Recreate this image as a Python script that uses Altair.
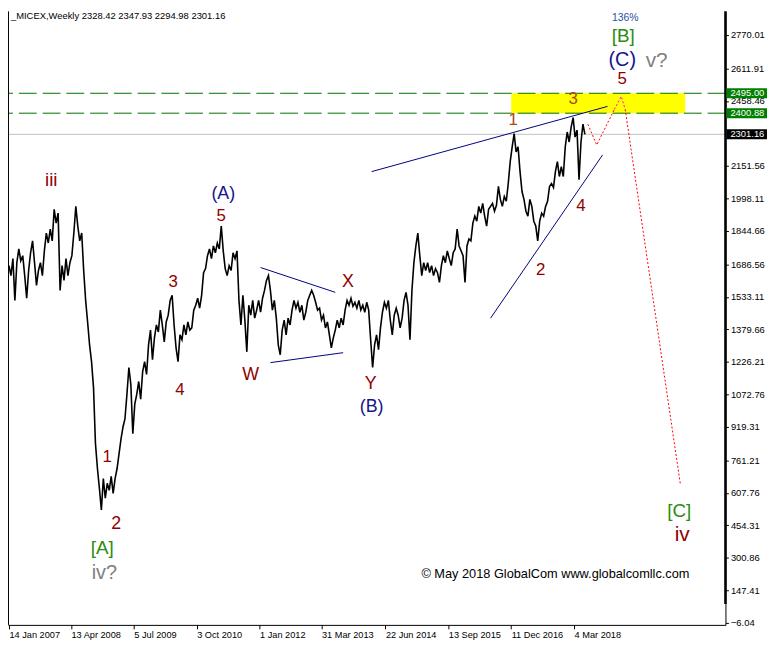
import altair as alt
import pandas as pd

# ---- weekly MICEX closes (sampled every 2 weeks, week 0 = 14 Jan 2007) ----
close = [
    1681, 1634, 1714, 1517, 1695, 1760, 1704, 1728, 1634, 1527,
    1658, 1742, 1798, 1695, 1588, 1658, 1695, 1634, 1751, 1835,
    1788, 1854, 1798, 1947, 1882, 1929, 1564, 1681, 1611, 1714,
    1634, 1695, 1728, 1835, 1961, 1868, 1798, 1835, 1658, 1517,
    1415, 1307, 1228, 1106, 840, 723, 630, 527, 676, 583,
    653, 620, 686, 606, 676, 723, 793, 863, 919, 957,
    1073, 1200, 1120, 887, 1027, 1073, 1134, 1050, 1181, 1228,
    1167, 1307, 1377, 1237, 1340, 1401, 1368, 1471, 1401, 1321,
    1415, 1447, 1517, 1541, 1401, 1293, 1228, 1354, 1331, 1401,
    1354, 1415, 1377, 1387, 1471, 1494, 1527, 1480, 1541, 1648,
    1667, 1728, 1760, 1714, 1774, 1742, 1788, 1760, 1868, 1751,
    1667, 1634, 1681, 1658, 1742, 1714, 1751, 1517, 1401, 1541,
    1424, 1274, 1494, 1447, 1517, 1433, 1471, 1517, 1461, 1527,
    1564, 1611, 1634, 1564, 1471, 1517, 1433, 1307, 1260, 1377,
    1424, 1354, 1433, 1401, 1471, 1517, 1480, 1508, 1461, 1494,
    1424, 1461, 1517, 1541, 1564, 1541, 1508, 1471, 1480, 1424,
    1447, 1387, 1415, 1354, 1293, 1340, 1377, 1424, 1387, 1433,
    1401, 1471, 1517, 1494, 1527, 1489, 1508, 1480, 1517, 1471,
    1494, 1461, 1508, 1471, 1331, 1200, 1307, 1354, 1284, 1387,
    1461, 1508, 1480, 1517, 1424, 1354, 1447, 1480, 1447, 1387,
    1433, 1517, 1555, 1494, 1331, 1564, 1695, 1774, 1835, 1728,
    1634, 1695, 1658, 1695, 1648, 1681, 1634, 1667, 1648, 1602,
    1681, 1728, 1695, 1751, 1714, 1681, 1742, 1760, 1854, 1774,
    1751, 1728, 1602, 1774, 1807, 1798, 1882, 1915, 1891, 1961,
    1929, 1975, 1915, 1868, 1947, 1961, 1975, 1938, 1966, 2055,
    1994, 1961, 2008, 1985, 2069, 2172, 2242, 2305, 2218, 2242,
    2125, 2031, 1994, 1938, 1915, 1994, 1961, 1891, 1868, 1798,
    1891, 1929, 1915, 1961, 1985, 2055, 2069, 2050, 2125, 2172,
    2102, 2148, 2102, 2242, 2312, 2265, 2335, 2380, 2288, 2321,
    2087, 2265, 2349, 2301,
]
weeks = list(range(0, 2 * len(close), 2))

# ---- axis ticks ----
date_tick_weeks = [0, 63, 127, 191, 255, 318, 383, 447, 511, 575]
date_tick_labels = ["14 Jan 2007", "13 Apr 2008", "5 Jul 2009", "3 Oct 2010",
                    "1 Jan 2012", "31 Mar 2013", "22 Jun 2014", "13 Sep 2015",
                    "11 Dec 2016", "4 Mar 2018"]
price_ticks = [2770.01, 2611.91, 2458.46, 2151.56, 1998.11, 1844.66, 1686.56,
               1533.11, 1379.66, 1226.21, 1072.76, 919.31, 761.21, 607.76,
               454.31, 300.86, 147.41, -6.04]

# ---- levels ----
level_prices = [2495.00, 2400.88]
last_price = 2301.16
zone_weeks = [511, 688]
zone_prices = [2400.88, 2495.00]

# ---- trend lines (week, price) ----
trend_id = ["up", "up", "lo", "lo", "tu", "tu", "tl", "tl"]
trend_w = [369, 609, 490, 604, 256, 332, 266, 340]
trend_p = [2125, 2433, 1433, 2204, 1672, 1555, 1223, 1270]

# ---- projection path ----
proj_id = ["a", "a", "a", "b", "b", "b", "c", "c"]
proj_w = [589, 598, 616, 616, 623, 627, 627, 683]
proj_p = [2349, 2251, 2419, 2419, 2480, 2419, 2419, 653]
proj_col = ["#ff0000", "#ff0000", "#ff0000", "#ff00ff", "#ff00ff", "#ff00ff",
            "#ff0000", "#ff0000"]

# ---- wave labels ----
DR = "#900000"
NV = "#14148c"
GR = "#2a8c10"
GY = "#808080"
OR = "#a84a1a"
lab_text = ["iii", "1", "2", "[A]", "iv?", "3", "4", "(A)", "5", "W", "X", "Y",
            "(B)", "1", "2", "3", "4", "136%", "[B]", "(C)", "v?", "5", "[C]", "iv"]
lab_w = [43, 100, 109, 95, 97, 167, 174, 218, 216, 246, 345, 368,
         369, 513, 541, 574, 582, 627, 625, 624, 659, 624, 682, 685]
lab_p = [2087, 779, 461, 349, 228, 1602, 1092, 2017, 1915, 1162, 1602, 1120,
         1013, 2368, 1658, 2466, 1961, 2849, 2765, 2653, 2648, 2564, 522, 410]
lab_col = [DR, DR, DR, GR, GY, DR, DR, NV, DR, DR, DR, DR,
           NV, OR, DR, OR, DR, "#2850a0", GR, NV, GY, DR, GR, DR]
lab_size = [19, 17, 18, 19, 20, 17, 17, 18, 17, 18, 18, 18,
            18, 17, 17, 17, 17, 10.5, 19, 20, 21, 17, 19, 21]

W, H = 725, 620
XDOM = [-1, 729]
YDOM = [-15.39, 2881.9]
FONT = "Liberation Sans"

xs = alt.Scale(domain=XDOM, nice=False, zero=False)
ys = alt.Scale(domain=YDOM, nice=False, zero=False)

price_df = pd.DataFrame({"w": weeks, "p": close})

x_axis = alt.Axis(values=date_tick_weeks, title=None, grid=False,
                  labelExpr="[" + ",".join("'%s'" % s for s in date_tick_labels) + "][indexof(["
                            + ",".join(str(v) for v in date_tick_weeks) + "], datum.value)]",
                  labelAlign="left", labelBaseline="top", labelPadding=2,
                  labelFont=FONT, labelFontSize=9.3, labelColor="black",
                  tickSize=4, tickColor="black", domainColor="black",
                  labelOverlap=False, labelFlush=False)
y_axis = alt.Axis(values=price_ticks, orient="right", format=".2f", title=None,
                  grid=False, labelFont=FONT, labelFontSize=9.5, labelColor="black",
                  tickSize=3, tickColor="black", domainColor="black",
                  labelPadding=2, labelOverlap=False, labelFlush=False)

base_line = alt.Chart(price_df).mark_line(color="black", strokeWidth=1.6).encode(
    x=alt.X("w:Q", scale=xs, axis=x_axis),
    y=alt.Y("p:Q", scale=ys, axis=y_axis),
)

zone = alt.Chart(pd.DataFrame({"w1": [zone_weeks[0]], "w2": [zone_weeks[1]],
                               "p1": [zone_prices[0]], "p2": [zone_prices[1]]})
                 ).mark_rect(color="#ffff00").encode(
    x=alt.X("w1:Q", scale=xs, axis=x_axis), x2="w2:Q",
    y=alt.Y("p1:Q", scale=ys, axis=y_axis), y2="p2:Q")

levels = alt.Chart(pd.DataFrame({"p": level_prices})).mark_rule(
    color="#007000", strokeDash=[18, 6], strokeWidth=1).encode(
    y=alt.Y("p:Q", scale=ys, axis=y_axis))

last_line = alt.Chart(pd.DataFrame({"p": [last_price]})).mark_rule(
    color="#c0c0c0", strokeWidth=1).encode(y=alt.Y("p:Q", scale=ys, axis=y_axis))

trend = alt.Chart(pd.DataFrame({"id": trend_id, "w": trend_w, "p": trend_p})
                  ).mark_line(color="#000080", strokeWidth=1).encode(
    x=alt.X("w:Q", scale=xs, axis=x_axis), y=alt.Y("p:Q", scale=ys, axis=y_axis),
    detail="id:N")

proj = alt.Chart(pd.DataFrame({"id": proj_id, "w": proj_w, "p": proj_p, "c": proj_col})
                 ).mark_line(strokeWidth=1, strokeDash=[2, 2]).encode(
    x=alt.X("w:Q", scale=xs, axis=x_axis), y=alt.Y("p:Q", scale=ys, axis=y_axis),
    detail="id:N", color=alt.Color("c:N", scale=None))

labels = alt.Chart(pd.DataFrame({"t": lab_text, "w": lab_w, "p": lab_p,
                                 "c": lab_col, "s": lab_size})
                   ).mark_text(font=FONT, align="center", baseline="middle").encode(
    x=alt.X("w:Q", scale=xs, axis=x_axis), y=alt.Y("p:Q", scale=ys, axis=y_axis),
    text="t:N", color=alt.Color("c:N", scale=None), size=alt.Size("s:Q", scale=None))

copyright_txt = alt.Chart(pd.DataFrame({"t": ["\u00a9 May 2018 GlobalCom www.globalcomllc.com"],
                                        "w": [556], "p": [223]})
                          ).mark_text(font=FONT, fontSize=12.9, color="black",
                                      align="center", baseline="middle").encode(
    x=alt.X("w:Q", scale=xs, axis=x_axis), y=alt.Y("p:Q", scale=ys, axis=y_axis),
    text="t:N")

header = alt.Chart(pd.DataFrame({"t": ["_MICEX,Weekly  2328.42 2347.93 2294.98 2301.16"]})
                   ).mark_text(font=FONT, fontSize=9.5, color="black", align="left",
                               baseline="top").encode(
    x=alt.value(3), y=alt.value(0), text="t:N")

# price-axis highlight boxes
box_prices = [2495.00, 2400.88, 2301.16]
box_colors = ["#008000", "#008000", "#000000"]
boxes = alt.Chart(pd.DataFrame({"p": box_prices, "c": box_colors})).mark_tick(
    orient="vertical", thickness=41, size=10, opacity=1).encode(
    x=alt.value(746.5), y=alt.Y("p:Q", scale=ys, axis=y_axis),
    color=alt.Color("c:N", scale=None))
box_text = alt.Chart(pd.DataFrame({"p": box_prices})).mark_text(
    font=FONT, fontSize=9.5, color="white", align="left", baseline="middle").encode(
    x=alt.value(730), y=alt.Y("p:Q", scale=ys, axis=y_axis),
    text=alt.Text("p:Q", format=".2f"))

left_border = alt.Chart(pd.DataFrame({"a": [0]})).mark_rule(color="black", strokeWidth=1).encode(
    x=alt.value(0.5), y=alt.value(0), y2=alt.value(H))
thick_axis = alt.Chart(pd.DataFrame({"a": [0]})).mark_rule(color="black", strokeWidth=2.5).encode(
    x=alt.value(W), y=alt.value(0), y2=alt.value(599))

chart = alt.layer(
    zone, levels, last_line, trend, base_line, proj, labels, copyright_txt,
    header, left_border, thick_axis, boxes, box_text
).properties(
    width=W, height=H,
    autosize=alt.AutoSizeParams(type="none"),
    padding={"left": 0, "top": 0, "right": 43, "bottom": 21},
    background="white",
).configure_view(stroke=None).configure_axis(labelOverlap=False)

chart.save("out.html", embed_options={"renderer": "svg", "actions": False})
